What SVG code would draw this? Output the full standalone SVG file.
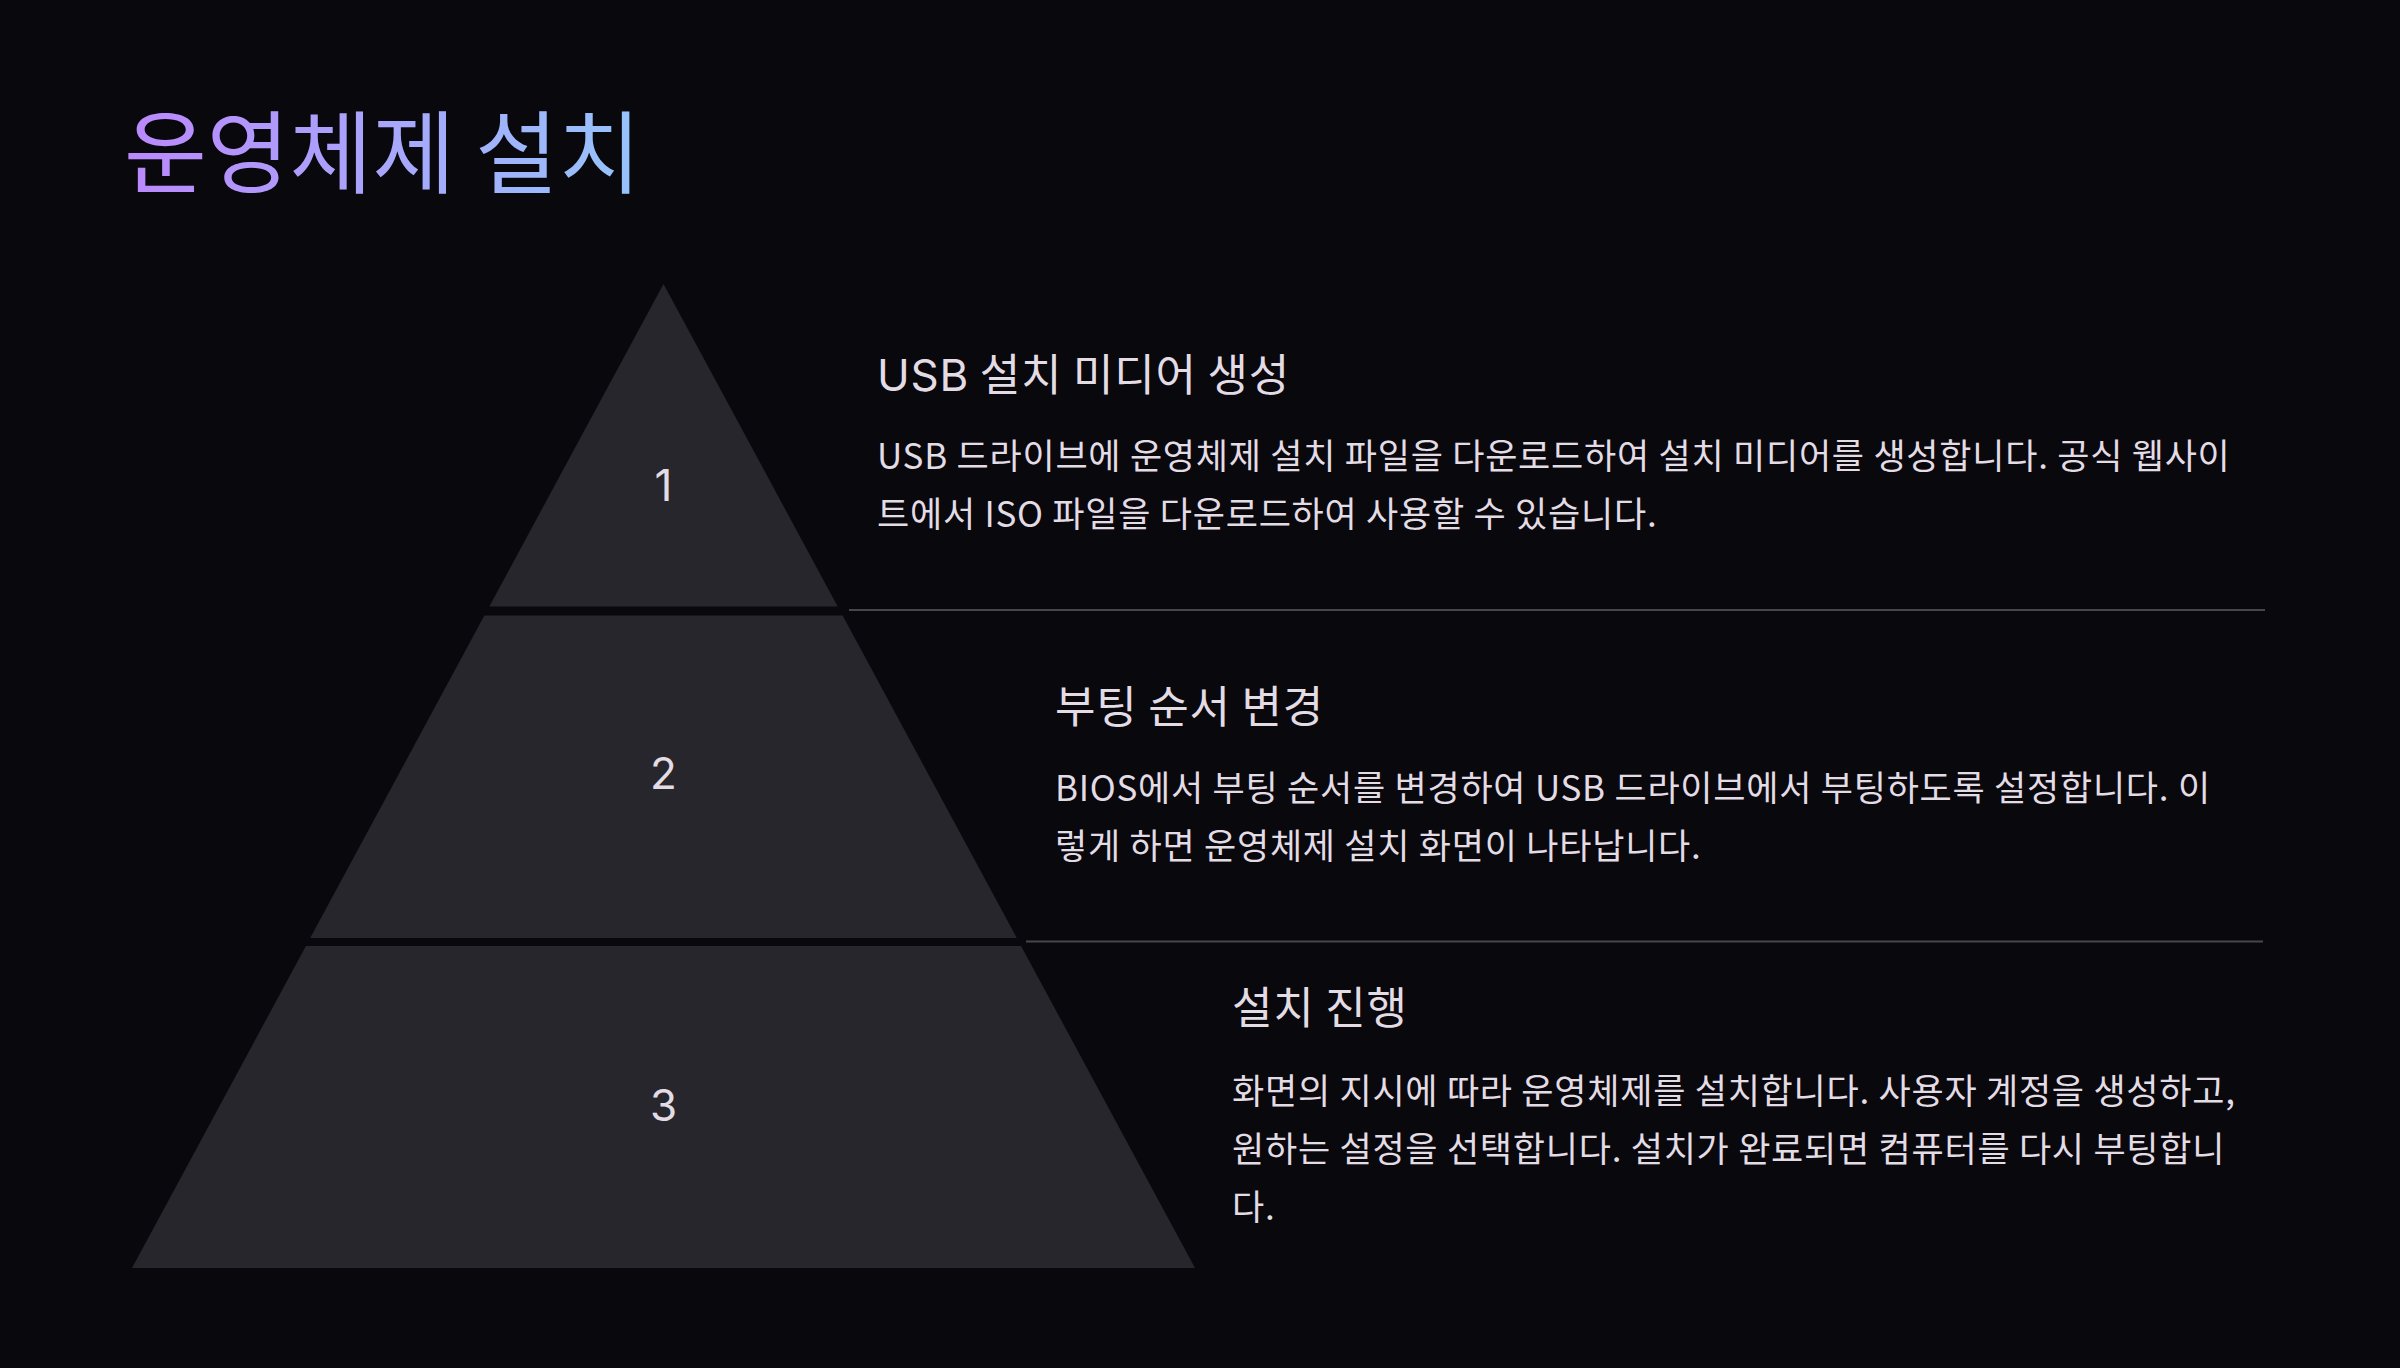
<svg xmlns="http://www.w3.org/2000/svg" width="2400" height="1368" viewBox="0 0 2400 1368">
<defs>
<linearGradient id="tg" x1="0" y1="0" x2="1" y2="0">
<stop offset="0" stop-color="#bb88fc"/>
<stop offset="1" stop-color="#96c4fb"/>
</linearGradient>
<style>
.tier{fill:#26262c}
.num{font-family:Inter,"Noto Sans",sans-serif;font-size:44px;fill:#e3dce5;text-anchor:middle}
.h{font-family:"Noto Sans CJK KR",sans-serif;font-size:44px;letter-spacing:0.8px;fill:#e3dce5}
.lat{font-family:Inter,"Noto Sans",sans-serif}
.b{font-family:"Noto Sans CJK KR",sans-serif;font-size:35px;letter-spacing:0.75px;fill:#e3dce5}
.sep{stroke:#47464d;stroke-width:2}
</style>
</defs>
<rect width="2400" height="1368" fill="#08080d"/>
<text x="124" y="186" font-family="'Noto Sans CJK KR',sans-serif" font-size="90" fill="url(#tg)">운영체제 설치</text>
<g id="tier1">
<polygon class="tier" points="663.5,284 837.7,606.5 489.3,606.5"/>
<text class="num" x="663.5" y="501">1</text>
</g>
<g id="tier2">
<polygon class="tier" points="484.4,615.5 842.6,615.5 1016.8,938 310.2,938"/>
<text class="num" x="663.5" y="789">2</text>
</g>
<g id="tier3">
<polygon class="tier" points="305.9,946 1021.1,946 1195,1268 132,1268"/>
<text class="num" x="663.5" y="1121">3</text>
</g>
<g id="connectors">
<line class="sep" x1="849" y1="610" x2="2265" y2="610"/>
<line class="sep" x1="1026" y1="941.5" x2="2263" y2="941.5"/>
</g>
<g id="text1">
<text class="h" x="877" y="391"><tspan class="lat">USB</tspan> 설치 미디어 생성</text>
<text class="b" x="877" y="469">USB 드라이브에 운영체제 설치 파일을 다운로드하여 설치 미디어를 생성합니다. 공식 웹사이</text>
<text class="b" x="877" y="527">트에서 ISO 파일을 다운로드하여 사용할 수 있습니다.</text>
</g>
<g id="text2">
<text class="h" x="1055" y="723">부팅 순서 변경</text>
<text class="b" x="1055" y="801">BIOS에서 부팅 순서를 변경하여 USB 드라이브에서 부팅하도록 설정합니다. 이</text>
<text class="b" x="1055" y="859">렇게 하면 운영체제 설치 화면이 나타납니다.</text>
</g>
<g id="text3">
<text class="h" x="1232" y="1024">설치 진행</text>
<text class="b" x="1232" y="1103.5">화면의 지시에 따라 운영체제를 설치합니다. 사용자 계정을 생성하고,</text>
<text class="b" x="1232" y="1161.5">원하는 설정을 선택합니다. 설치가 완료되면 컴퓨터를 다시 부팅합니</text>
<text class="b" x="1232" y="1219.5">다.</text>
</g>
</svg>
